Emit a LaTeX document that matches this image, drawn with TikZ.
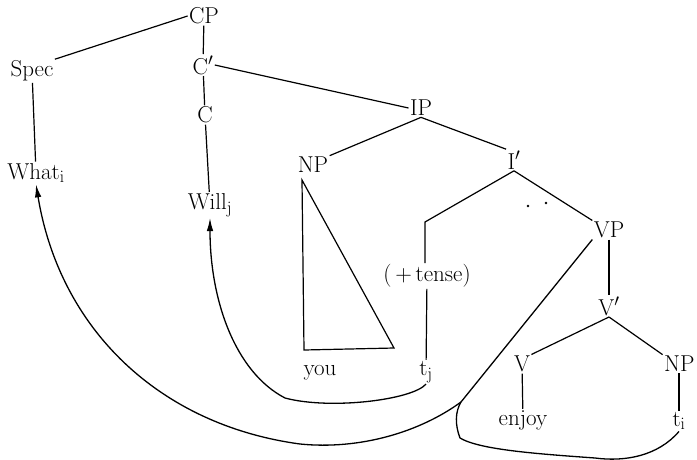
\documentclass[tikz,border=0pt]{standalone}
\usetikzlibrary{arrows.meta}
\begin{document}
\begin{tikzpicture}[x=1pt,y=-1pt,
  lab/.style={font=\fontsize{23}{27}\selectfont, inner sep=1.5pt, outer sep=0pt},
  br/.style={line width=1.2pt},
  mv/.style={line width=1.3pt},
  tip/.style={-{Latex[length=13pt,width=6.5pt]}}]
\useasboundingbox (0,0) rectangle (697,459);
% nodes
\node[lab] (CP) at (204,16) {CP};
\node[lab] (Spec) at (32,71) {Spec};
\node[lab] (Cb) at (203,65) {C$'$};
\node[lab] (C) at (205,115) {C};
\node[lab] (What) at (36,173) {What$_{\mathrm{i}}$};
\node[lab] (Will) at (210,205) {Will$_{\mathrm{j}}$};
\node[lab] (IP) at (421,108) {IP};
\node[lab] (NPl) at (313,165) {NP};
\node[lab] (Ib) at (514,160) {I$'$};
\node[lab] (tense) at (427,276) {(\,+\,tense)};
\node[lab] (tj) at (426,372) {t$_{\mathrm{j}}$};
\node[lab] (you) at (320,373) {you};
\node[lab] (VP) at (609,230) {VP};
\node[lab] (Vb) at (609,306) {V$'$};
\node[lab] (V) at (522,364) {V};
\node[lab, anchor=east] (NPr) at (696,364) {NP};
\node[lab] (enjoy) at (523,420) {enjoy};
\node[lab] (ti) at (679,421) {t$_{\mathrm{i}}$};
% helper coordinates
\coordinate (Ibend) at (425,222);
\coordinate (ta) at (302,180);
\coordinate (tl) at (304,350);
\coordinate (tr) at (394,348);
\coordinate (J) at (461,402);
% tree branches
\draw[br] (CP.west) -- (Spec.north east);
\draw[br] (CP) -- (Cb);
\draw[br] (Cb.east) -- (IP.west);
\draw[br] (Cb) -- (C);
\draw[br] (C) -- (Will);
\draw[br] (Spec) -- (What);
\draw[br] (IP.south) -- (NPl.north east);
\draw[br] (IP.south) -- (Ib.north west);
\draw[br] (Ib.south) -- (Ibend) -- (tense.north -| Ibend);
\draw[br] (tense) -- (tj);
\draw[br] (Ib.south) -- (VP.north west);
\draw[br] (ta) -- (tl) -- (tr) -- cycle;
\draw[br] (VP) -- (Vb);
\draw[br] (Vb.south) -- (V.north east);
\draw[br] (Vb.south) -- (NPr.north west);
\draw[br] (V) -- (enjoy);
\draw[br] (ti.north) -- (ti.north |- NPr.south);
% dots
\fill (528,206) circle (1.3);
\fill (546,203) circle (1.3);
% movement paths
\draw[mv] (VP.south west) -- (J);
\draw[mv, tip] (tj.south) .. controls (412,400) and (330,410) .. (285,398)
  .. controls (235,372) and (210,300) .. (Will.south);
\draw[mv] (ti.south) .. controls (658,456) and (625,462) .. (595,458)
  .. controls (540,454) and (480,450) .. (460,438)
  .. controls (455,425) and (455,412) .. (J);
\draw[mv, tip] (J) .. controls (420,432) and (360,450) .. (300,444)
  .. controls (160,425) and (60,330) .. (What.south);
\end{tikzpicture}
\end{document}
